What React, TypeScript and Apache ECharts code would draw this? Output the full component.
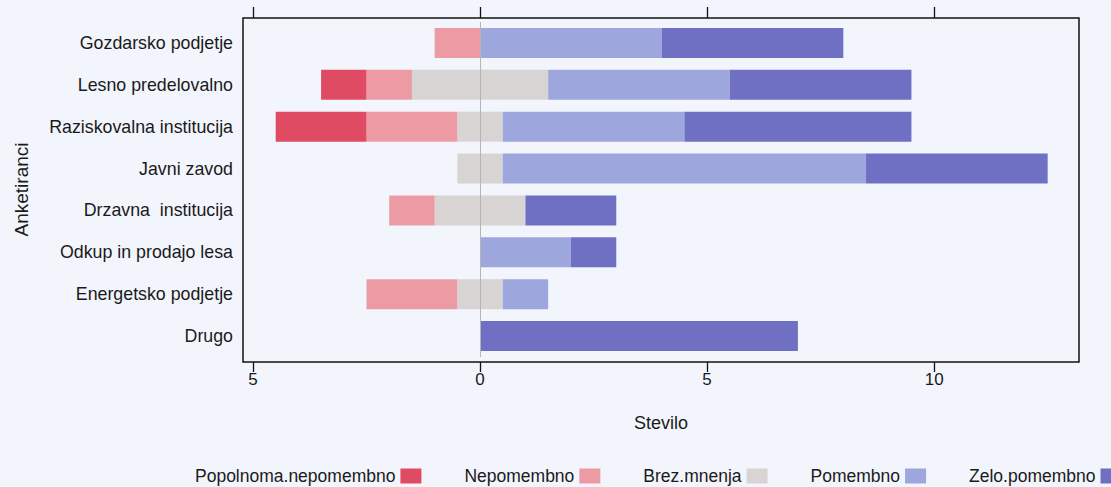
import React, { useEffect, useRef } from "react";
import * as echarts from "echarts";

const categories = [
  "Gozdarsko podjetje",
  "Lesno predelovalno",
  "Raziskovalna institucija",
  "Javni zavod",
  "Drzavna  institucija",
  "Odkup in prodajo lesa",
  "Energetsko podjetje",
  "Drugo",
];
const levelNames = ["Popolnoma.nepomembno", "Nepomembno", "Brez.mnenja", "Pomembno", "Zelo.pomembno"];
const popolnomaNepomembno = [0, 1, 2, 0, 0, 0, 0, 0];
const nepomembno = [1, 1, 2, 0, 1, 0, 2, 0];
const brezMnenja = [0, 3, 1, 1, 2, 0, 1, 0];
const pomembno = [4, 4, 4, 8, 0, 2, 1, 0];
const zeloPomembno = [4, 4, 5, 4, 2, 1, 0, 7];
const tickValues = [-5, 0, 5, 10];
const colors = ["#DE4B63", "#EC9BA5", "#D8D4D4", "#9EA6DE", "#6F70C3"];

const FONT = "'Liberation Sans', Arial, Helvetica, sans-serif";

export default function App() {
  const ref = useRef<HTMLDivElement>(null);
  useEffect(() => {
    if (!ref.current) return;
    const chart = echarts.init(ref.current, undefined, { renderer: "svg" });
    const mk = (idx: number, data: number[], extra: any = {}) => ({
      type: "bar",
      name: levelNames[idx],
      stack: "total",
      data,
      barWidth: 30,
      itemStyle: { color: colors[idx] },
      silent: true,
      emphasis: { disabled: true },
      ...extra,
    });
    const xMin = -5.22;
    const xMax = 13.19;
    chart.setOption({
      animation: false,
      backgroundColor: "#F2F5FC",
      textStyle: { fontFamily: FONT },
      grid: { left: 243, width: 836, top: 22, height: 335 },
      xAxis: [
        {
          type: "value",
          position: "bottom",
          min: xMin,
          max: xMax,
          offset: 5,
          axisLine: { show: false },
          splitLine: { show: false },
          axisTick: { show: true, length: 10, customValues: tickValues, lineStyle: { color: "#111", width: 1.3 } },
          axisLabel: {
            customValues: tickValues,
            formatter: (v: number) => String(Math.abs(v)),
            color: "#1a1a1a",
            fontSize: 17,
            fontFamily: FONT,
            margin: 9,
          },
          name: "Stevilo",
          nameLocation: "middle",
          nameGap: 52,
          nameTextStyle: { fontSize: 18, color: "#1a1a1a", fontFamily: FONT, verticalAlign: "top" },
        },
        {
          type: "value",
          position: "top",
          min: xMin,
          max: xMax,
          offset: 4,
          axisLine: { show: false },
          splitLine: { show: false },
          axisTick: { show: true, length: 11, customValues: tickValues, lineStyle: { color: "#111", width: 1.3 } },
          axisLabel: { show: false },
        },
      ],
      yAxis: {
        type: "category",
        inverse: true,
        data: categories,
        axisLine: { show: false },
        axisTick: { show: false },
        axisLabel: { color: "#1a1a1a", fontSize: 17.8, fontFamily: FONT, margin: 10 },
        name: "Anketiranci",
        nameLocation: "middle",
        nameGap: 212,
        nameTextStyle: { fontSize: 19, color: "#1a1a1a", fontFamily: FONT },
      },
      legend: {
        data: levelNames,
        left: 190,
        top: 462,
        width: 1200,
        align: "right",
        icon: "rect",
        itemWidth: 21,
        itemHeight: 15,
        itemGap: 43,
        selectedMode: false,
        textStyle: { fontSize: 17.5, color: "#1a1a1a", fontFamily: FONT },
      },
      graphic: [
        {
          type: "rect",
          shape: { x: 243, y: 18, width: 836, height: 344 },
          style: { fill: "none", stroke: "#111", lineWidth: 1.5 },
          silent: true,
          z: 10,
        },
      ],
      series: [
        mk(2, brezMnenja.map((v) => -v / 2), {
          markLine: {
            silent: true,
            symbol: "none",
            label: { show: false },
            lineStyle: { color: "#B8B4B4", width: 1, type: "solid" },
            data: [{ xAxis: 0 }],
          },
        }),
        mk(1, nepomembno.map((v) => -v)),
        mk(0, popolnomaNepomembno.map((v) => -v)),
        mk(2, brezMnenja.map((v) => v / 2)),
        mk(3, pomembno),
        mk(4, zeloPomembno),
      ],
    });
    return () => chart.dispose();
  }, []);
  return (
    <div
      ref={ref}
      style={{ position: "absolute", left: 0, top: 0, width: 1111, height: 487 }}
    />
  );
}
